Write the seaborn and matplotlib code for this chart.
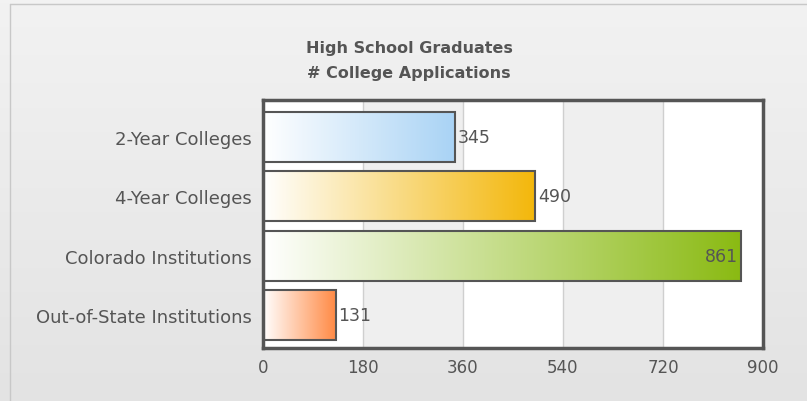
import numpy as np
import pandas as pd
import matplotlib
matplotlib.use("Agg")
import matplotlib.pyplot as plt
import seaborn as sns
from matplotlib.colors import LinearSegmentedColormap

# ── Data ───────────────────────────────────────────────────────────────────
categories = ["2-Year Colleges", "4-Year Colleges",
              "Colorado Institutions", "Out-of-State Institutions"]
applications = [345, 490, 861, 131]
bar_colors = ["#a9d3f5", "#f3b70a", "#8aba12", "#ff8a45"]
x_ticks = [0, 180, 360, 540, 720, 900]
title_lines = ["High School Graduates", "# College Applications"]

df = pd.DataFrame({"category": categories, "applications": applications})

TXT = "#555555"

sns.set_style("white")
plt.rcParams["font.family"] = ["DejaVu Sans"]

fig = plt.figure(figsize=(8.07, 4.02), dpi=100)

# background gradient for whole figure
bg = fig.add_axes([0, 0, 1, 1], zorder=-10)
bg.imshow(np.linspace(0, 1, 100).reshape(-1, 1), aspect="auto",
          cmap=LinearSegmentedColormap.from_list("bg", ["#f2f2f2", "#e3e3e3"]),
          extent=[0, 1, 0, 1])
bg.plot([10 / 807, 10 / 807], [0, 1 - 5 / 402], color="#c8c8c8", lw=1)
bg.plot([10 / 807, 1], [1 - 5 / 402, 1 - 5 / 402], color="#c8c8c8", lw=1)
bg.set_xlim(0, 1); bg.set_ylim(0, 1)
bg.axis("off")

ax = fig.add_axes([263 / 807, 1 - 349 / 402, 500 / 807, 248 / 402])
sns.barplot(data=df, y="category", x="applications", orient="h",
            width=0.84, ax=ax)

YLIM = (len(categories) - 0.45, -0.62)

# alternating vertical bands
for i in range(len(x_ticks) - 1):
    col = "white" if i % 2 == 0 else "#efefef"
    ax.axvspan(x_ticks[i], x_ticks[i + 1], color=col, zorder=0, lw=0)
for t in x_ticks[1:-1]:
    ax.axvline(t, color="#cfcfcf", lw=1, zorder=0.5)

# gradient fill inside each bar
for patch, col in zip(ax.patches, bar_colors):
    x0, y0 = patch.get_x(), patch.get_y()
    w, h = patch.get_width(), patch.get_height()
    patch.set_facecolor("none")
    patch.set_edgecolor("#555555")
    patch.set_linewidth(1.5)
    patch.set_zorder(3)
    cmap = LinearSegmentedColormap.from_list("g", ["#ffffff", col])
    im = ax.imshow(np.linspace(0, 1, 256).reshape(1, -1), aspect="auto",
                   cmap=cmap, extent=[x0, x0 + w, y0 + h, y0], zorder=2)
    im.set_clip_path(patch)

ax.set_xlim(x_ticks[0], x_ticks[-1])
ax.set_ylim(*YLIM)

# value labels
for i, v in enumerate(applications):
    if v > 800:
        ax.text(v - 6, i, f"{v}", ha="right", va="center",
                color=TXT, fontsize=12.5, zorder=4)
    else:
        ax.text(v + 5, i, f"{v}", ha="left", va="center",
                color=TXT, fontsize=12.5, zorder=4)

ax.set_xticks(x_ticks)
ax.set_xticklabels([str(t) for t in x_ticks])
ax.tick_params(axis="both", length=0, colors=TXT)
ax.tick_params(axis="x", pad=7, labelsize=12)
ax.tick_params(axis="y", pad=8, labelsize=13)
ax.set_xlabel("")
ax.set_ylabel("")
for s in ax.spines.values():
    s.set_visible(True)
    s.set_color("#555555")
    s.set_linewidth(2.5)

fig.text(0.507, 1 - 48 / 402, title_lines[0], ha="center", va="center",
         fontsize=11.5, fontweight="bold", color=TXT)
fig.text(0.507, 1 - 74 / 402, title_lines[1], ha="center", va="center",
         fontsize=11.5, fontweight="bold", color=TXT)

fig.savefig("out.png", dpi=100)
